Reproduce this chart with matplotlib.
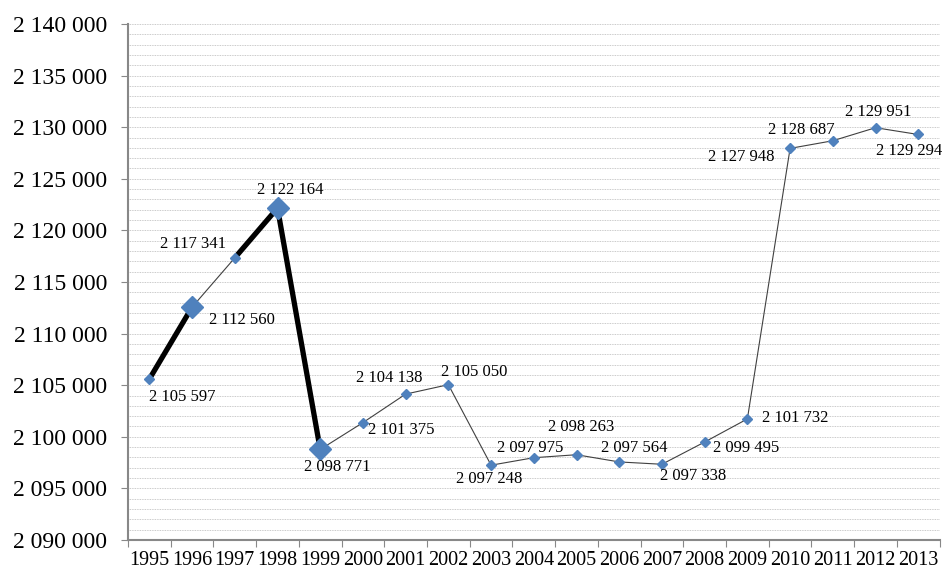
import matplotlib
matplotlib.use("Agg")
import matplotlib.pyplot as plt
from matplotlib.ticker import MultipleLocator, FuncFormatter

years = list(range(1995, 2014))
values = [2105597, 2112560, 2117341, 2122164, 2098771, 2101375, 2104138, 2105050,
          2097248, 2097975, 2098263, 2097564, 2097338, 2099495, 2101732, 2127948,
          2128687, 2129951, 2129294]

# segments drawn thick black, points drawn with big markers
thick_segments = [(0, 1), (2, 3), (3, 4)]
big_points = [1, 3, 4]

# label offsets in pixels (dx right, dy up) from each marker
label_offsets_px = [(33, -18), (50, -13), (-42, 14), (13, 18), (17, -18), (38, -7),
                    (-16, 16), (26, 13), (-2, -14), (-4, 10), (5, 28), (15, 14),
                    (31, -12), (41, -6), (48, 1), (-49, -9), (-31, 11), (3, 16), (-9, -17)]

def fmt(v):
    return f"{int(v):,}".replace(",", " ")

plt.rcParams['font.family'] = ['Liberation Serif', 'DejaVu Serif']

fig = plt.figure(figsize=(9.44, 5.71), dpi=100)
ax = fig.add_axes([128 / 944, 31 / 571, 811.6 / 944, 516 / 571])

x = list(range(len(years)))
ax.plot(x, values, color='#404040', lw=0.8, zorder=2)
for a, b in thick_segments:
    ax.plot([a, b], [values[a], values[b]], color='black', lw=3.8,
            solid_capstyle='butt', zorder=3)

small = [i for i in x if i not in big_points]
ax.plot(small, [values[i] for i in small], 'D', color='#4F81BD', ms=5.5, mec='#4F81BD', zorder=4)
ax.plot(big_points, [values[i] for i in big_points], 'D', color='#4F81BD', ms=11, mec='#4F81BD', zorder=4)

for i, v in enumerate(values):
    dx, dy = label_offsets_px[i]
    ax.annotate(fmt(v), (i, v), xytext=(dx * 0.72, dy * 0.72), textcoords='offset points',
                ha='center', va='center', fontsize=12, zorder=5)

ax.set_xlim(-0.5, len(years) - 0.5)
ax.set_ylim(2090000, 2140000)
ax.yaxis.set_major_locator(MultipleLocator(5000))
ax.yaxis.set_minor_locator(MultipleLocator(1000))
ax.yaxis.set_major_formatter(FuncFormatter(lambda v, p: fmt(v)))
ax.grid(True, which='both', axis='y', color='#b8b8b8', ls=(0, (1, 1)), lw=0.6)
ax.set_axisbelow(True)

ax.set_xticks([i + 0.5 for i in range(-1, len(years))])
ax.set_xticklabels([])
ax.set_xticks(x, minor=True)
ax.set_xticklabels([str(y) for y in years], minor=True, fontsize=14.5)
ax.tick_params(axis='x', which='minor', length=0, pad=8)
ax.tick_params(axis='x', which='major', length=5, color='#888888', direction='out')
ax.tick_params(axis='y', which='major', length=5, color='#888888', labelsize=17, pad=10)
ax.tick_params(axis='y', which='minor', length=0)

for s in ['top', 'right']:
    ax.spines[s].set_visible(False)
for s in ['left', 'bottom']:
    ax.spines[s].set_color('#888888')
    ax.spines[s].set_linewidth(1.5)

fig.savefig('out.png', dpi=100)
